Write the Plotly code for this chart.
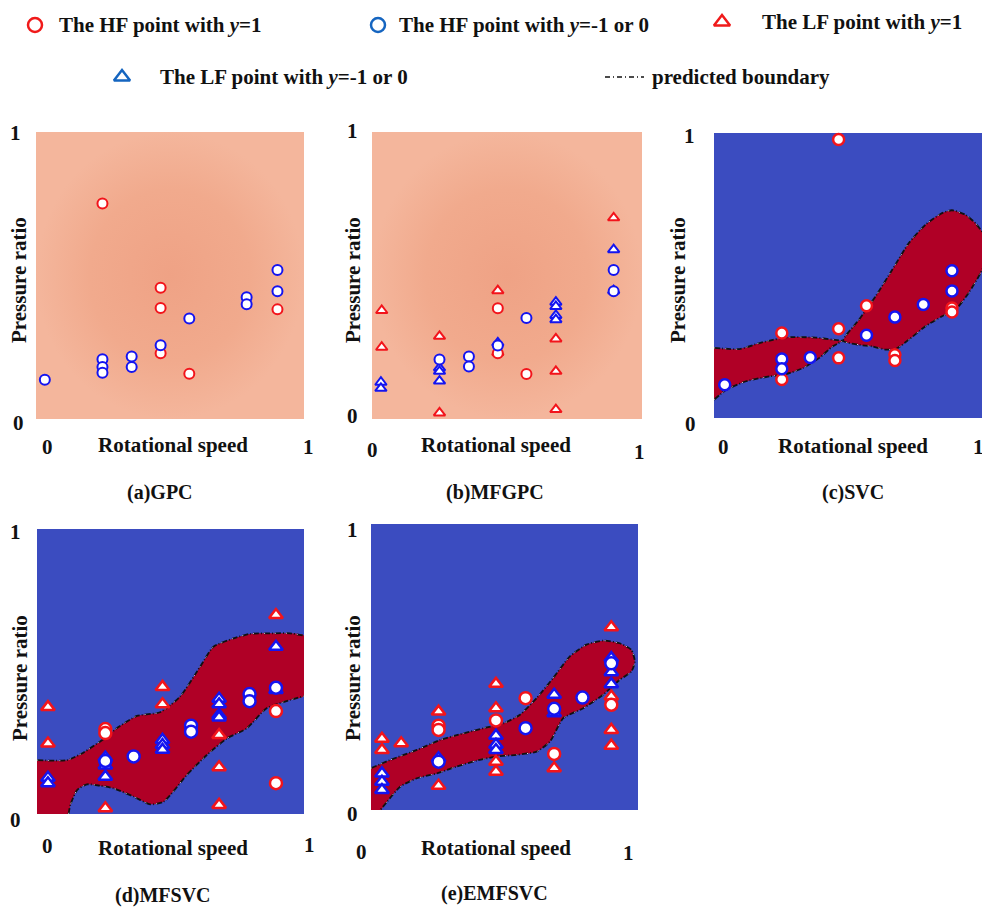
import plotly.graph_objects as go

W, H = 982, 908

# ---------------- data (normalised rotational speed / pressure ratio) ----------------
# (a) GPC
A_HF_POS_X = [0.248, 0.465, 0.465, 0.465, 0.572, 0.901]
A_HF_POS_Y = [0.751, 0.457, 0.387, 0.229, 0.158, 0.382]
A_HF_NEG_X = [0.033, 0.248, 0.248, 0.248, 0.357, 0.357, 0.465, 0.572, 0.786, 0.786, 0.901, 0.901]
A_HF_NEG_Y = [0.137, 0.208, 0.181, 0.161, 0.218, 0.181, 0.257, 0.350, 0.424, 0.400, 0.519, 0.445]

# (b) MFGPC
B_HF_POS_X = [0.466, 0.466, 0.572]
B_HF_POS_Y = [0.386, 0.229, 0.157]
B_HF_NEG_X = [0.250, 0.359, 0.359, 0.466, 0.572, 0.895, 0.895]
B_HF_NEG_Y = [0.207, 0.218, 0.183, 0.256, 0.352, 0.519, 0.445]
B_LF_POS_X = [0.036, 0.036, 0.250, 0.250, 0.466, 0.466, 0.681, 0.681, 0.681, 0.895]
B_LF_POS_Y = [0.378, 0.250, 0.288, 0.021, 0.447, 0.232, 0.279, 0.166, 0.033, 0.701]
B_LF_NEG_X = [0.033, 0.033, 0.250, 0.250, 0.250, 0.466, 0.681, 0.681, 0.681, 0.681, 0.895, 0.895]
B_LF_NEG_Y = [0.128, 0.107, 0.178, 0.166, 0.132, 0.265, 0.407, 0.392, 0.361, 0.346, 0.590, 0.447]

# (c) SVC
C_HF_POS_X = [0.465, 0.253, 0.253, 0.465, 0.465, 0.569, 0.675, 0.675, 0.888, 0.888]
C_HF_POS_Y = [0.977, 0.298, 0.135, 0.313, 0.211, 0.394, 0.222, 0.202, 0.386, 0.372]
C_HF_NEG_X = [0.040, 0.253, 0.253, 0.359, 0.569, 0.675, 0.781, 0.888, 0.888]
C_HF_NEG_Y = [0.117, 0.207, 0.173, 0.212, 0.290, 0.354, 0.398, 0.517, 0.446]
C_UP_X = [0.0, 0.095, 0.170, 0.269, 0.380, 0.442, 0.482]
C_UP_Y = [0.246, 0.242, 0.263, 0.283, 0.282, 0.275, 0.271]
C_LO_X = [0.0, 0.046, 0.120, 0.207, 0.269, 0.331, 0.393, 0.442, 0.482]
C_LO_Y = [0.064, 0.099, 0.129, 0.146, 0.154, 0.175, 0.211, 0.251, 0.271]
C_R_X = [0.482, 0.541, 0.603, 0.665, 0.727, 0.789, 0.851, 0.888, 0.938, 0.975, 1.012, 1.030,
         1.012, 0.995, 0.950, 0.901, 0.851, 0.789, 0.727, 0.678, 0.641, 0.591, 0.541, 0.482]
C_R_Y = [0.271, 0.345, 0.427, 0.520, 0.614, 0.678, 0.719, 0.729, 0.713, 0.684, 0.637, 0.590,
         0.544, 0.509, 0.439, 0.380, 0.357, 0.322, 0.275, 0.242, 0.240, 0.251, 0.257, 0.271]

# (d) MFSVC
D_HF_POS_X = [0.256, 0.256, 0.895, 0.895]
D_HF_POS_Y = [0.298, 0.284, 0.361, 0.108]
D_HF_NEG_X = [0.256, 0.362, 0.577, 0.577, 0.796, 0.796, 0.895]
D_HF_NEG_Y = [0.186, 0.202, 0.310, 0.289, 0.421, 0.396, 0.443]
D_LF_POS_X = [0.041, 0.041, 0.256, 0.470, 0.470, 0.682, 0.682, 0.682, 0.895]
D_LF_POS_Y = [0.375, 0.247, 0.020, 0.446, 0.385, 0.277, 0.164, 0.032, 0.698]
D_LF_NEG_X = [0.041, 0.041, 0.256, 0.256, 0.256, 0.470, 0.470, 0.470, 0.682, 0.682, 0.682, 0.682, 0.895, 0.895]
D_LF_NEG_Y = [0.127, 0.108, 0.198, 0.170, 0.131, 0.260, 0.242, 0.225, 0.404, 0.385, 0.347, 0.339, 0.587, 0.435]
D_UP_X = [0.0, 0.112, 0.175, 0.249, 0.299, 0.374, 0.461, 0.536, 0.611, 0.661, 0.736, 0.798, 0.885, 0.948, 1.0]
D_UP_Y = [0.189, 0.189, 0.216, 0.263, 0.301, 0.344, 0.357, 0.412, 0.517, 0.587, 0.616, 0.632, 0.634, 0.634, 0.626]
D_LO_X = [0.118, 0.125, 0.150, 0.187, 0.237, 0.287, 0.362, 0.424, 0.474, 0.561, 0.636, 0.711, 0.786, 0.860, 0.948, 1.0]
D_LO_Y = [0.0, 0.032, 0.084, 0.104, 0.099, 0.090, 0.061, 0.034, 0.043, 0.137, 0.207, 0.265, 0.301, 0.371, 0.400, 0.414]

# (e) EMFSVC
E_HF_POS_X = [0.253, 0.253, 0.468, 0.579, 0.686, 0.900]
E_HF_POS_Y = [0.295, 0.280, 0.313, 0.391, 0.196, 0.368]
E_HF_NEG_X = [0.253, 0.579, 0.686, 0.792, 0.900]
E_HF_NEG_Y = [0.169, 0.286, 0.354, 0.393, 0.513]
E_LF_POS_X = [0.041, 0.041, 0.113, 0.253, 0.253, 0.468, 0.468, 0.468, 0.468, 0.686, 0.900, 0.900, 0.900, 0.900]
E_LF_POS_Y = [0.249, 0.210, 0.233, 0.344, 0.085, 0.441, 0.356, 0.169, 0.134, 0.146, 0.639, 0.397, 0.280, 0.225]
E_LF_NEG_X = [0.041, 0.041, 0.041, 0.253, 0.468, 0.468, 0.468, 0.686, 0.686, 0.900, 0.900, 0.900]
E_LF_NEG_Y = [0.128, 0.099, 0.070, 0.181, 0.260, 0.228, 0.210, 0.403, 0.338, 0.531, 0.482, 0.440]
E_UP_X = [0.0, 0.072, 0.172, 0.259, 0.346, 0.421, 0.496, 0.558, 0.620, 0.682, 0.745, 0.807, 0.869, 0.931, 0.975, 0.988]
E_UP_Y = [0.146, 0.175, 0.210, 0.245, 0.268, 0.286, 0.303, 0.333, 0.391, 0.461, 0.537, 0.578, 0.592, 0.583, 0.560, 0.519]
E_LO_X = [0.975, 0.931, 0.869, 0.795, 0.720, 0.670, 0.620, 0.545, 0.471, 0.396, 0.321, 0.247, 0.172, 0.110, 0.060, 0.035]
E_LO_Y = [0.484, 0.455, 0.403, 0.356, 0.321, 0.239, 0.204, 0.193, 0.187, 0.173, 0.152, 0.128, 0.111, 0.082, 0.029, 0.0]

PANEL_LABELS = ["(a)GPC", "(b)MFGPC", "(c)SVC", "(d)MFSVC", "(e)EMFSVC"]
X_TITLE = "Rotational speed"
Y_TITLE = "Pressure ratio"
TICK_LABELS = ["0", "1"]
LEGEND_TEXT = ["The HF point with <i>y</i>=1", "The HF point with <i>y</i>=-1 or 0",
               "The LF point with <i>y</i>=1", "The LF point with <i>y</i>=-1 or 0",
               "predicted boundary"]

# ---------------- styling ----------------
FONT = "Liberation Serif, Times New Roman, serif"
RED = "#F2141B"
BLUE = "#1414F0"
LEG_RED = "#F01A1A"
LEG_BLUE = "#1565C0"
BG_BLUE = "#3B4CC0"
REG_RED = "#B00026"
FS = 21

# panel plot-area pixel boxes (left, top, right, bottom)
BOXES = [(36, 132, 304, 419), (372, 132, 642, 419), (714, 133, 982, 418),
         (37, 529, 304, 814), (371, 524, 638, 810)]
# text positions per panel: y1, y0, x0, x1, xtitle, ytitle, label
TXT = [
    dict(y1=(16, 133), y0=(18, 423), x0=(47, 447), x1=(308, 447), xt=(173, 445), yt=(19, 280), lab=(160, 493)),
    dict(y1=(352, 131), y0=(352, 416), x0=(372, 450), x1=(639, 452), xt=(496, 445), yt=(353, 280), lab=(495, 493)),
    dict(y1=(689, 136), y0=(690, 424), x0=(723, 447), x1=(978, 447), xt=(853, 446), yt=(678, 280), lab=(853, 493)),
    dict(y1=(15, 532), y0=(15, 820), x0=(47, 846), x1=(309, 845), xt=(173, 848), yt=(20, 678), lab=(163, 895)),
    dict(y1=(352, 530), y0=(352, 814), x0=(361, 852), x1=(628, 853), xt=(496, 848), yt=(353, 678), lab=(495, 893)),
]

fig = go.Figure()
layout = {}
annotations = []


def px2paper(px, py):
    return px / W, 1 - py / H


def add_text(px, py, text, size=FS, angle=0, xanchor="center"):
    x, y = px2paper(px, py)
    annotations.append(dict(x=x, y=y, xref="paper", yref="paper", text=f"<b>{text}</b>",
                            showarrow=False, xanchor=xanchor, yanchor="middle",
                            textangle=angle, font=dict(family=FONT, size=size, color="#111111")))


def axes_names(i):
    n = "" if i == 0 else str(i + 1)
    return "x" + n, "y" + n, "xaxis" + n, "yaxis" + n


def add_markers(i, xs, ys, symbol, color, size, lw):
    xa, ya, _, _ = axes_names(i)
    fig.add_trace(go.Scatter(x=xs, y=ys, mode="markers", xaxis=xa, yaxis=ya, showlegend=False,
                             hoverinfo="skip", cliponaxis=False,
                             marker=dict(symbol=symbol, size=size, color="white",
                                         line=dict(color=color, width=lw))))


def add_region(i, xs, ys):
    xa, ya, _, _ = axes_names(i)
    fig.add_trace(go.Scatter(x=xs, y=ys, mode="lines", fill="toself", fillcolor=REG_RED,
                             line=dict(width=0, shape="spline", smoothing=0.6),
                             xaxis=xa, yaxis=ya, showlegend=False, hoverinfo="skip"))


def add_boundary(i, xs, ys):
    xa, ya, _, _ = axes_names(i)
    fig.add_trace(go.Scatter(x=xs, y=ys, mode="lines", xaxis=xa, yaxis=ya, showlegend=False,
                             hoverinfo="skip",
                             line=dict(color="#111111", width=1.8, dash="6px,2px,1px,2px",
                                       shape="spline", smoothing=0.6)))
    fig.add_trace(go.Scatter(x=xs, y=ys, mode="lines", xaxis=xa, yaxis=ya, showlegend=False,
                             hoverinfo="skip",
                             line=dict(color="#d8d8d8", width=1, dash="1px,10px",
                                       shape="spline", smoothing=0.6)))


for i, (l, t, r, b) in enumerate(BOXES):
    xa, ya, xk, yk = axes_names(i)
    x0, y1 = px2paper(l, t)
    x1, y0 = px2paper(r, b)
    layout[xk] = dict(domain=[x0, min(x1, 1.0)], range=[0, 1], visible=False, anchor=ya, fixedrange=True)
    layout[yk] = dict(domain=[y0, y1], range=[0, 1], visible=False, anchor=xa, fixedrange=True)
    if i < 2:
        fig.add_trace(go.Scatter(x=[0, 1, 1, 0, 0], y=[0, 0, 1, 1, 0], mode="lines", fill="toself",
                                 fillgradient=dict(type="radial",
                                                   colorscale=[[0, "#EFA285"], [0.6, "#F1AA8D"],
                                                               [1, "#F4B69C"]]),
                                 line=dict(width=0), xaxis=xa, yaxis=ya, showlegend=False,
                                 hoverinfo="skip"))
    else:
        fig.add_trace(go.Scatter(x=[0, 1, 1, 0, 0], y=[0, 0, 1, 1, 0], mode="lines", fill="toself",
                                 fillcolor=BG_BLUE, line=dict(width=0), xaxis=xa, yaxis=ya,
                                 showlegend=False, hoverinfo="skip"))
    tp = TXT[i]
    add_text(*tp["y1"], TICK_LABELS[1])
    add_text(*tp["y0"], TICK_LABELS[0])
    add_text(*tp["x0"], TICK_LABELS[0])
    add_text(*tp["x1"], TICK_LABELS[1])
    add_text(*tp["xt"], X_TITLE)
    add_text(*tp["yt"], Y_TITLE, angle=-90)
    add_text(*tp["lab"], PANEL_LABELS[i], size=20)

# decision regions
add_region(2, C_UP_X + C_LO_X[::-1], C_UP_Y + C_LO_Y[::-1])
add_region(2, C_R_X, C_R_Y)
add_boundary(2, C_UP_X, C_UP_Y)
add_boundary(2, C_LO_X, C_LO_Y)
add_boundary(2, C_R_X, C_R_Y)

add_region(3, D_UP_X + D_LO_X[::-1] + [0.0], D_UP_Y + D_LO_Y[::-1] + [0.0])
add_boundary(3, D_UP_X, D_UP_Y)
add_boundary(3, D_LO_X, D_LO_Y)

add_region(4, E_UP_X + E_LO_X + [0.0], E_UP_Y + E_LO_Y + [0.0])
add_boundary(4, E_UP_X + E_LO_X, E_UP_Y + E_LO_Y)

# markers
add_markers(0, A_HF_POS_X, A_HF_POS_Y, "circle", RED, 10, 2)
add_markers(0, A_HF_NEG_X, A_HF_NEG_Y, "circle", BLUE, 10, 2)

add_markers(1, B_LF_POS_X, B_LF_POS_Y, "triangle-up", RED, 10, 2)
add_markers(1, B_LF_NEG_X, B_LF_NEG_Y, "triangle-up", BLUE, 10, 2)
add_markers(1, B_HF_POS_X, B_HF_POS_Y, "circle", RED, 10, 2)
add_markers(1, B_HF_NEG_X, B_HF_NEG_Y, "circle", BLUE, 10, 2)

add_markers(2, C_HF_POS_X, C_HF_POS_Y, "circle", RED, 11, 2.5)
add_markers(2, C_HF_NEG_X, C_HF_NEG_Y, "circle", BLUE, 11, 2.5)

add_markers(3, D_LF_POS_X, D_LF_POS_Y, "triangle-up", RED, 12, 2.5)
add_markers(3, D_LF_NEG_X, D_LF_NEG_Y, "triangle-up", BLUE, 12, 2.5)
add_markers(3, D_HF_POS_X, D_HF_POS_Y, "circle", RED, 12, 2.5)
add_markers(3, D_HF_NEG_X, D_HF_NEG_Y, "circle", BLUE, 12, 2.5)

add_markers(4, E_LF_POS_X, E_LF_POS_Y, "triangle-up", RED, 12, 2.5)
add_markers(4, E_LF_NEG_X, E_LF_NEG_Y, "triangle-up", BLUE, 12, 2.5)
add_markers(4, E_HF_POS_X, E_HF_POS_Y, "circle", RED, 12, 2.5)
add_markers(4, E_HF_NEG_X, E_HF_NEG_Y, "circle", BLUE, 12, 2.5)

# ---------------- legend (drawn on a full-figure pixel axis) ----------------
layout["xaxis6"] = dict(domain=[0, 1], range=[0, W], visible=False, anchor="y6", fixedrange=True)
layout["yaxis6"] = dict(domain=[0, 1], range=[H, 0], visible=False, anchor="x6", fixedrange=True)
LEG_ITEMS = [((35, 25), "circle", LEG_RED, (57, 25)),
             ((378, 25), "circle", LEG_BLUE, (397, 25)),
             ((722, 22), "triangle-up", LEG_RED, (760, 22)),
             ((122, 77), "triangle-up", LEG_BLUE, (158, 77))]
for k, ((mx, my), sym, col, (tx, ty)) in enumerate(LEG_ITEMS):
    fig.add_trace(go.Scatter(x=[mx], y=[my], mode="markers", xaxis="x6", yaxis="y6",
                             showlegend=False, hoverinfo="skip",
                             marker=dict(symbol=sym, size=14, color="rgba(0,0,0,0)",
                                         line=dict(color=col, width=2.5))))
    add_text(tx, ty, LEGEND_TEXT[k], xanchor="left")
fig.add_trace(go.Scatter(x=[605, 644], y=[77, 77], mode="lines", xaxis="x6", yaxis="y6",
                         showlegend=False, hoverinfo="skip",
                         line=dict(color="#111111", width=1.5, dash="5px,3px,1px,3px")))
add_text(650, 77, LEGEND_TEXT[4], xanchor="left")

fig.update_layout(width=W, height=H, margin=dict(l=0, r=0, t=0, b=0),
                  paper_bgcolor="white", plot_bgcolor="rgba(0,0,0,0)",
                  annotations=annotations, showlegend=False, **layout)

fig.write_html("out.html")
